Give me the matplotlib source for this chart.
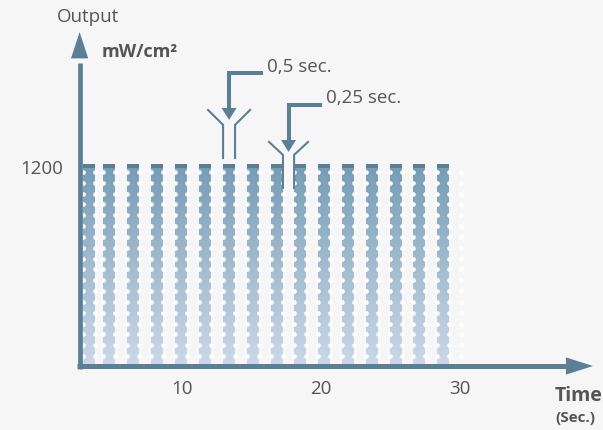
import numpy as np
import matplotlib.pyplot as plt
from matplotlib.colors import LinearSegmentedColormap

# pulse train (seconds, mW/cm2)
pulse_start = [2.90, 4.36, 6.09, 7.81, 9.53, 11.26, 12.98, 14.70,
               16.42, 18.08, 19.80, 21.53, 23.25, 24.97, 26.62, 28.34]
pulse_width = 0.86
pulse_level = 1200
x_ticks = [10, 20, 30]
y_ticks = [1200]

dark = '#5b8096'
text_c = '#555555'
bg = '#f6f6f6'

plt.rcParams['font.family'] = ['Open Sans', 'DejaVu Sans']

fig = plt.figure(figsize=(6.03, 4.30), dpi=100)
fig.patch.set_facecolor(bg)
ax = fig.add_axes([0.1327, 0.1488, 0.6468, 0.7814])
ax.set_facecolor(bg)
ax.set_xlim(2.71, 30.71)
ax.set_ylim(0, 2026)

# bars with vertical gradient
cmap = LinearSegmentedColormap.from_list('g', ['#cbd8e9', '#a3bccf', '#769db5'])
grad = np.linspace(0, 1, 256).reshape(-1, 1)
for s in pulse_start:
    ax.imshow(grad, extent=[s, s + pulse_width, 0, pulse_level], origin='lower',
              cmap=cmap, aspect='auto', zorder=2)
    ax.fill_between([s, s + pulse_width], pulse_level - 8, pulse_level + 20,
                    color=dark, lw=0, zorder=3)

# white dot columns on bar edges
edges = [s for s in pulse_start] + [s + pulse_width for s in pulse_start]
edges.append(pulse_start[-1] + (pulse_start[-1] - pulse_start[-2]))
rows = np.linspace(60, 1170, 18)
ex, ey = np.meshgrid(edges, rows)
ax.scatter(ex.ravel(), ey.ravel(), s=11, color='white', lw=0, zorder=4)
ax.set_xlim(2.71, 30.71)
ax.set_ylim(0, 2026)


def head(tip, base, length, width):
    ax.annotate('', xy=tip, xytext=base,
                arrowprops=dict(arrowstyle='-|>,head_length=%g,head_width=%g' % (length, width),
                                mutation_scale=1, lw=0, color=dark,
                                shrinkA=0, shrinkB=0), annotation_clip=False, zorder=6)


# axes arrows
ax.plot([2.68, 2.68], [-15, 1830], color=dark, lw=3.4, solid_capstyle='butt',
        clip_on=False, zorder=5)
head((2.68, 2014), (2.68, 1800), 19, 6.2)
ax.plot([2.5, 37.6], [0, 0], color=dark, lw=3.6, solid_capstyle='butt',
        clip_on=False, zorder=5)
head((39.54, 0), (37.0, 0), 19.5, 6.2)

for s in ax.spines.values():
    s.set_visible(False)
ax.set_xticks(x_ticks)
ax.set_yticks(y_ticks)
ax.tick_params(length=0, labelsize=13.5, labelcolor=text_c, pad=10)
ax.tick_params(axis='y', pad=12)

# 0,5 sec bracket (on bar 7)
b0 = pulse_start[6]
b1 = pulse_start[6] + pulse_width
ax.plot([b0 - 1.08, b0, b0], [1544, 1454, 1254], color=dark, lw=1.5, zorder=6, clip_on=False)
ax.plot([b1 + 1.08, b1, b1], [1544, 1454, 1254], color=dark, lw=1.5, zorder=6, clip_on=False)
m = (b0 + b1) / 2
ax.plot([m + 2.3, m, m], [1767, 1767, 1560], color=dark, lw=2.9, zorder=6, clip_on=False,
        solid_joinstyle='miter')
head((m, 1484), (m, 1570), 8.6, 5.4)
ax.text(m + 2.75, 1803, '0,5 sec.', fontsize=13.5, color=text_c, va='center', ha='left')

# 0,25 sec bracket (gap after bar 9)
g0 = pulse_start[8] + pulse_width
g1 = pulse_start[9]
ax.plot([g0 - 1.0, g0, g0], [1351, 1273, 1074], color=dark, lw=1.5, zorder=6, clip_on=False)
ax.plot([g1 + 1.0, g1, g1], [1351, 1273, 1074], color=dark, lw=1.5, zorder=6, clip_on=False)
m = (g0 + g1) / 2
ax.plot([m + 2.23, m, m], [1574, 1574, 1360], color=dark, lw=2.9, zorder=6, clip_on=False,
        solid_joinstyle='miter')
head((m, 1291), (m, 1380), 8.6, 5.4)
ax.text(m + 2.7, 1616, '0,25 sec.', fontsize=13.5, color=text_c, va='center', ha='left')

# labels
fig.text(88 / 603, 1 - 17 / 430, 'Output', fontsize=13.5, color=text_c, ha='center', va='center')
fig.text(102 / 603, 1 - 52 / 430, 'mW/cm²', fontsize=13, fontweight='bold', color=text_c,
         ha='left', va='center')
fig.text(555 / 603, 1 - 396 / 430, 'Time', fontsize=14, fontweight='bold', color=text_c,
         ha='left', va='center')
fig.text(555 / 603, 1 - 418 / 430, '(Sec.)', fontsize=11, fontweight='bold', color=text_c,
         ha='left', va='center')

fig.savefig('out.png', dpi=100, facecolor=bg)
